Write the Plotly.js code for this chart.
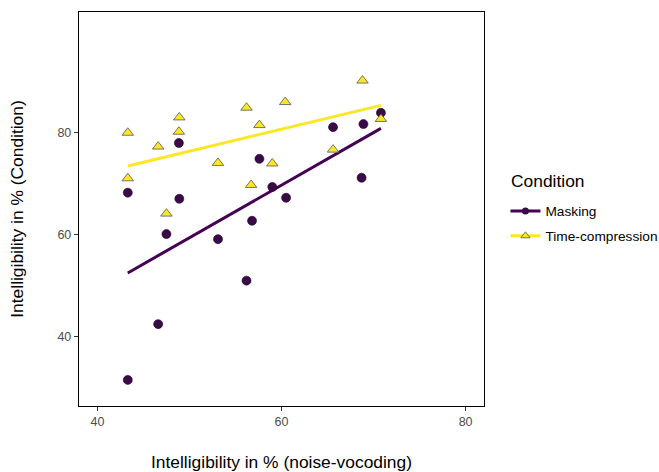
<!DOCTYPE html>
<html>
<head>
<meta charset="utf-8">
<script src="https://cdn.plot.ly/plotly-3.0.1.min.js"></script>
<style>html,body{margin:0;padding:0;background:#fff;}#chart{width:659px;height:472px;}</style>
</head>
<body>
<div id="chart"></div>
<script>
// Masking (circles)
var maskX = [48.85, 57.6, 43.3, 48.9, 59.0, 60.5, 56.8, 47.5, 53.1, 56.2, 46.6, 43.3, 65.6, 68.9, 70.8, 68.7];
var maskY = [77.9, 74.8, 68.2, 67.0, 69.3, 67.2, 62.7, 60.1, 59.1, 51.0, 42.5, 31.6, 81.0, 81.6, 83.8, 71.1];
// Time-compression (triangles)
var tcX = [43.3, 48.9, 48.85, 46.6, 56.2, 57.6, 60.4, 53.1, 59.0, 43.3, 56.7, 47.5, 68.8, 70.8, 65.6];
var tcY = [79.9, 82.9, 80.1, 77.2, 84.8, 81.4, 85.9, 74.0, 73.9, 71.0, 69.7, 64.1, 90.1, 82.6, 76.6];
// Fitted lines (endpoints)
var maskFitX = [43.3, 70.8];
var maskFitY = [52.5, 80.75];
var tcFitX = [43.3, 70.8];
var tcFitY = [73.4, 85.25];
var xTicks = [40, 60, 80];
var yTicks = [40, 60, 80];
var legendTitle = 'Condition';

var purple = '#440154', yellow = '#FDE725';

var traces = [
  {x: maskFitX, y: maskFitY, mode: 'lines', line: {color: purple, width: 3}, showlegend: false, hoverinfo: 'skip'},
  {x: tcFitX, y: tcFitY, mode: 'lines', line: {color: yellow, width: 3}, showlegend: false, hoverinfo: 'skip'},
  {x: maskX, y: maskY, mode: 'markers', marker: {symbol: 'circle', size: 9, color: '#3a0a48', line: {color: '#1a0022', width: 0.6}}, showlegend: false},
  {x: tcX, y: tcY, mode: 'markers', marker: {symbol: 'triangle-up', size: 10, color: yellow, line: {color: '#555555', width: 0.8}}, showlegend: false},
  {x: [null], y: [null], name: 'Masking', legendgroup: 'a', mode: 'lines+markers', line: {color: purple, width: 3}, marker: {symbol: 'circle', size: 7, color: '#3a0a48'}},
  {x: [null], y: [null], name: 'Time-compression', legendgroup: 'b', mode: 'lines+markers', line: {color: yellow, width: 3}, marker: {symbol: 'triangle-up', size: 8, color: yellow, line: {color: '#555555', width: 0.8}}}
];

var layout = {
  width: 659, height: 472,
  margin: {l: 79, r: 174.5, t: 12, b: 66.3, autoexpand: false},
  paper_bgcolor: '#fff', plot_bgcolor: '#fff',
  font: {family: 'Liberation Sans, Arial, sans-serif', color: '#000'},
  xaxis: {
    range: [38, 82], tickvals: xTicks, ticktext: xTicks.map(String),
    showgrid: false, zeroline: false, showline: true, linecolor: '#000', linewidth: 1.2, mirror: true,
    ticks: 'outside', ticklen: 4, tickcolor: '#333', tickwidth: 1,
    tickfont: {size: 12.5, color: '#4D4D4D'},
    title: {text: 'Intelligibility in % (noise-vocoding)', font: {size: 17.4, color: '#000'}, standoff: 30}
  },
  yaxis: {
    range: [26.5, 103.5], tickvals: yTicks, ticktext: yTicks.map(String),
    showgrid: false, zeroline: false, showline: true, linecolor: '#000', linewidth: 1.2, mirror: true,
    ticks: 'outside', ticklen: 4, tickcolor: '#333', tickwidth: 1,
    tickfont: {size: 12.5, color: '#4D4D4D'},
    title: {text: 'Intelligibility in % (Condition)', font: {size: 17.4, color: '#000'}, standoff: 29}
  },
  legend: {
    x: 1.053, y: 0.534, xanchor: 'left', yanchor: 'top',
    font: {size: 13.7, color: '#000'}, bgcolor: 'rgba(0,0,0,0)',
    tracegroupgap: 4, traceorder: 'grouped'
  },
  annotations: [{
    text: legendTitle, xref: 'paper', yref: 'paper', x: 1.0616, y: (405.7 - 180.7) / 393.7,
    xanchor: 'left', yanchor: 'middle', showarrow: false, font: {size: 17.4, color: '#000'}
  }]
};
Plotly.newPlot('chart', traces, layout, {displayModeBar: false, staticPlot: true});
</script>
</body>
</html>
